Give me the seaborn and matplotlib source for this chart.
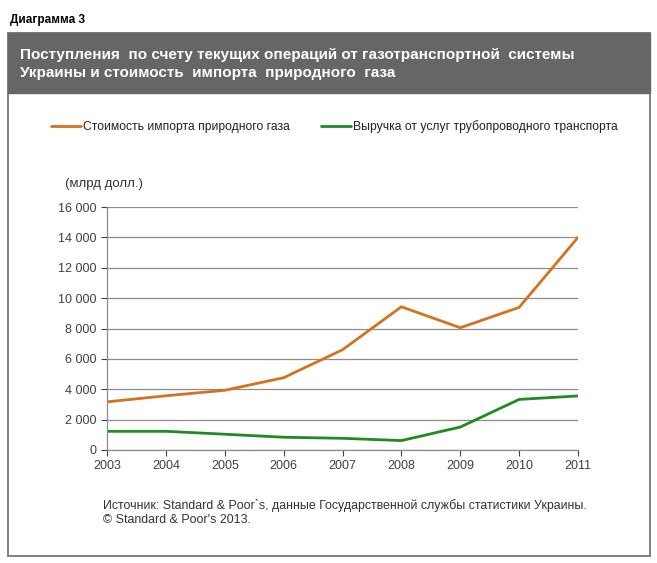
import matplotlib
matplotlib.use("Agg")
import matplotlib.pyplot as plt
import matplotlib.patches as patches
import seaborn as sns
import pandas as pd

# data
years = [2003, 2004, 2005, 2006, 2007, 2008, 2009, 2010, 2011]
gas_import = [3170, 3570, 3930, 4760, 6600, 9430, 8050, 9390, 14000]
transit_revenue = [1230, 1230, 1040, 840, 770, 620, 1510, 3330, 3560]
series_names = ["Стоимость импорта природного газа",
                "Выручка от услуг трубопроводного транспорта"]
y_ticks = [0, 2000, 4000, 6000, 8000, 10000, 12000, 14000, 16000]

df = pd.DataFrame({
    "year": years * 2,
    "value": gas_import + transit_revenue,
    "series": [series_names[0]] * len(years) + [series_names[1]] * len(years),
})

sns.set_theme(style="white")
plt.rcParams["font.family"] = ["Liberation Sans", "DejaVu Sans"]

W, H = 657, 563
fig = plt.figure(figsize=(W / 100, H / 100), dpi=100)

def fx(px):
    return px / W

def fy(py):
    return 1 - py / H

# outer frame and header
fig.patches.append(patches.Rectangle((fx(8), fy(556)), fx(642), (556 - 33) / H,
                                     transform=fig.transFigure, fill=False,
                                     edgecolor="#7f7f7f", linewidth=1.4))
fig.patches.append(patches.Rectangle((fx(8), fy(93)), fx(642), (93 - 33) / H,
                                     transform=fig.transFigure, facecolor="#666666",
                                     edgecolor="#666666"))
fig.text(fx(10), fy(20), "Диаграмма 3", fontsize=8.5, fontweight="bold",
         va="center", ha="left", color="black")
fig.text(fx(20), fy(64), "Поступления  по счету текущих операций от газотранспортной  системы\n"
         "Украины и стоимость  импорта  природного  газа",
         fontsize=11, fontweight="bold", color="white", va="center", ha="left",
         linespacing=1.3)

ax = fig.add_axes([fx(107), fy(450), fx(578) - fx(107), (450 - 207) / H])
palette = {series_names[0]: "#d2731f", series_names[1]: "#1e8c1e"}
sns.lineplot(data=df, x="year", y="value", hue="series", palette=palette,
             linewidth=2, ax=ax, legend=False)

ax.set_xlim(2003, 2011)
ax.set_ylim(0, 16000)
ax.set_xticks(years)
ax.set_xticklabels([str(y) for y in years])
ax.set_yticks(y_ticks)
ax.set_yticklabels([f"{v:,}".replace(",", " ") for v in y_ticks])
ax.set_xlabel("")
ax.set_ylabel("")
ax.tick_params(axis="both", labelsize=9, colors="#404040", length=4,
               width=0.8, direction="out", left=True, bottom=True)
ax.tick_params(axis="x", pad=3)
ax.yaxis.grid(True, color="#8c8c8c", linewidth=0.9)
ax.set_axisbelow(True)
for side in ["top", "right"]:
    ax.spines[side].set_visible(False)
for side in ["left", "bottom"]:
    ax.spines[side].set_color("#8c8c8c")
    ax.spines[side].set_linewidth(0.9)

# legend
handles = [plt.Line2D([0], [0], color=palette[n], linewidth=2) for n in series_names]
fig.legend(handles, series_names, loc="center left", bbox_to_anchor=(fx(40), fy(127)),
           ncol=2, frameon=False, fontsize=8.7, handlelength=2.5, handletextpad=0.15,
           columnspacing=2.6, labelcolor="#222222")

fig.text(fx(65), fy(184), "(млрд долл.)", fontsize=9.5, color="#333333",
         va="center", ha="left")

fig.text(fx(103), fy(505), "Источник: Standard & Poor`s, данные Государственной службы статистики Украины.",
         fontsize=8.9, color="#333333", va="center", ha="left")
fig.text(fx(103), fy(520), "© Standard & Poor's 2013.",
         fontsize=8.9, color="#333333", va="center", ha="left")

fig.savefig("out.png", dpi=100, facecolor="white")
